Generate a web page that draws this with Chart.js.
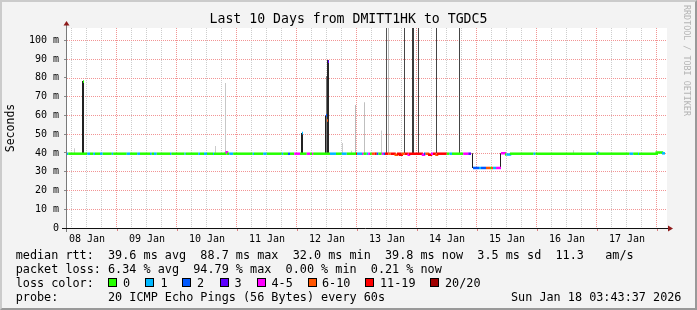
<!DOCTYPE html>
<html lang="en">
<head>
<meta charset="UTF-8" />
<title>Last 10 Days from DMITT1HK to TGDC5</title>
<script src="https://cdn.jsdelivr.net/npm/chart.js"></script>
<style>
  body { margin: 0; background: #f3f3f3; }
  #wrap { position: relative; width: 697px; height: 310px; background: #f3f3f3; overflow: hidden;
          font-family: 'DejaVu Sans Mono', monospace; color: #000; }
  #wrap canvas { position: absolute; left: 0; top: 0; }
  .frame { position: absolute; left: 0; top: 0; width: 697px; height: 310px; box-sizing: border-box;
           border: 2px solid; border-color: #cbcbcb #999 #999 #cbcbcb; pointer-events: none; }
  .title { position: absolute; left: 0; top: 11px; width: 697px; text-align: center;
           font-size: 13.2px; line-height: 16px; white-space: pre; }
  .credit { position: absolute; left: 682px; top: 5px; writing-mode: vertical-rl;
            font-size: 8.4px; line-height: 10px; color: #b4b4b4; white-space: pre; }
  .txt { position: absolute; white-space: pre; font-size: 11.8px; line-height: 14px; }
  .box { position: absolute; width: 7px; height: 7px; border: 1px solid #000; }
</style>
</head>
<body>
<div id="wrap">
  <canvas id="chart" width="697" height="310"></canvas>
  <div class="title">Last 10 Days from DMITT1HK to TGDC5</div>
  <div class="credit">RRDTOOL / TOBI OETIKER</div>
  <div id="legend"></div>
  <div class="frame"></div>
</div>

<script>
  // loss buckets (pings lost out of 20)
  const lossColors = ['#26ff00', '#00b8ff', '#0059ff', '#5e00ff', '#ff00ff', '#ff5500', '#ff0000', '#a00000'];
  const lossLabels = ['0', '1', '2', '3', '4-5', '6-10', '11-19', '20/20'];

  // x axis in hours from the left edge of the graph (08 Jan ~04:00)
  const dayLabelHours = [8, 32, 56, 80, 104, 128, 152, 176, 200, 224];
  const dayLabels = ['08 Jan', '09 Jan', '10 Jan', '11 Jan', '12 Jan', '13 Jan', '14 Jan', '15 Jan', '16 Jan', '17 Jan'];

  // median rtt, one entry per run: start hour, ms (null = break), loss bucket
  const medHour = [0.0, 0.5, 8.1, 9.2, 10.5, 11.2, 13.2, 14.3, 17.9, 18.5,
    23.9, 25.2, 28.1, 29.2, 33.2, 33.9, 34.8, 35.9, 41.2, 41.8,
    47.0, 47.5, 52.5, 53.2, 54.8, 56.0, 58.4, 58.8, 63.4, 64.0,
    64.9, 66.5, 74.3, 74.8, 78.5, 79.9, 85.9, 86.5, 88.4, 89.2,
    90.9, 93.2, 95.9, 97.2, 98.0, 98.5, 105.2, 107.6, 109.9, 111.9,
    115.6, 116.0, 118.0, 118.6, 119.9, 120.5, 121.2, 121.9, 123.0, 123.9,
    124.6, 125.9, 126.6, 127.2, 128.5, 129.5, 131.0, 132.0, 133.2, 133.9,
    135.0, 136.2, 136.8, 141.9, 142.8, 143.4, 144.4, 145.6, 146.4, 147.3,
    148.0, 151.9, 153.0, 154.0, 158.5, 160.5, 161.6, 161.6, 162.4, 164.8,
    165.6, 167.6, 169.2, 169.6, 170.4, 171.6, 173.6, 173.6, 173.6, 175.2,
    175.8, 177.2, 186.6, 187.4, 211.8, 212.4, 225.0, 226.5, 228.4, 228.8,
    235.9, 238.0, 239.2];
  const medMs = [39.6, 39.6, 39.6, 39.6, 39.6, 39.6, 39.6, 39.6, 39.6, 39.6,
    39.6, 39.6, 39.6, 39.6, 39.6, 39.6, 39.6, 39.6, 39.6, 39.6,
    39.6, 39.6, 39.6, 39.6, 39.6, 39.6, 39.6, 39.6, 40.4, 39.6,
    39.6, 39.6, 39.6, 39.6, 39.6, 39.6, 39.6, 39.6, 39.6, 39.6,
    39.6, 39.6, 39.6, 39.6, 39.6, 39.6, 39.6, 39.6, 39.6, 39.6,
    39.6, 39.6, 39.6, 39.6, 39.6, 39.6, 39.6, 39.6, 39.6, 39.6,
    39.6, 39.6, 39.6, 39.6, 39.6, 39.6, 39.0, 39.6, 39.0, 39.6,
    39.6, 39.0, 39.6, 39.0, 39.6, 39.6, 39.0, 39.6, 39.6, 39.0,
    39.6, 39.6, 39.6, 39.6, 39.6, 39.6, 39.6, null, 32.0, 32.0,
    32.0, 32.0, 32.0, 32.0, 32.0, 32.0, 32.0, null, 39.8, 39.2,
    39.2, 39.6, 39.6, 39.6, 40.0, 39.6, 39.6, 39.6, 39.6, 39.6,
    40.3, 39.8, 39.8];
  const medLoss = [1, 0, 1, 0, 1, 0, 1, 0, 1, 0,
    1, 0, 1, 0, 1, 0, 1, 0, 1, 0,
    1, 0, 1, 0, 1, 0, 1, 0, 4, 0,
    1, 0, 1, 0, 1, 0, 1, 0, 2, 0,
    4, 0, 4, 0, 4, 0, 1, 0, 1, 0,
    6, 1, 4, 0, 1, 4, 0, 5, 6, 2,
    0, 4, 2, 6, 5, 6, 5, 6, 6, 5,
    6, 4, 6, 4, 2, 5, 6, 4, 6, 5,
    6, 0, 1, 0, 4, 3, 3, 3, 2, 1,
    2, 5, 0, 5, 1, 4, 4, 4, 4, 0,
    1, 0, 1, 0, 1, 0, 1, 0, 1, 0,
    0, 1, 1];

  // smoke (spread of the 20 pings): hour, low ms, high ms, rrd steps wide, ping density
  const smokeHour  = [3.0, 6.4, 59.4, 63.4, 94.0, 103.4, 103.8, 104.4, 110.2, 113.8, 115.4, 119.0,
    125.8, 127.8, 128.6, 135.0, 138.4, 140.6, 147.8, 157.0, 162.2, 173.4, 202.6];
  const smokeLow   = [40, 40, 40, 40, 40, 40, 40, 40, 40, 40, 40, 40,
    40, 40, 40, 40, 40, 40, 40, 40, 32.0, 32.0, 40];
  const smokeHigh  = [42.5, 78.3, 43.7, 77.3, 50.7, 60.0, 81.0, 89.5, 45.3, 41.2, 65.5, 67.0,
    52.0, 150, 150, 150, 150, 150, 150, 150, 39.8, 39.8, 41.5];
  const smokeSteps = [1, 2, 1, 1, 2, 1, 1, 2, 1, 1, 1, 1,
    1, 1, 1, 1, 2, 1, 1, 1, 1, 1, 1];
  const smokeDensity = [0.2, 0.87, 0.2, 0.22, 0.87, 0.87, 0.55, 0.85, 0.2, 0.2, 0.27, 0.25,
    0.2, 0.67, 0.27, 0.73, 0.77, 0.73, 0.73, 0.73, 0.87, 0.87, 0.2];

  // median marks on top of the spikes
  const markHour = [6.6, 94.2, 103.8, 104.2, 104.6];
  const markMs   = [78.0, 50.6, 60.0, 57.3, 88.7];
  const markLoss = [0, 1, 2, 5, 3];

  const FONT = "'DejaVu Sans Mono', monospace";
  const MAJOR = '#f29494';
  const MINOR = '#cdcdcd';
  const isMajorX = v => (v - 20) % 24 === 0;
  const isMajorY = v => v % 10 === 0;
  const gray = d => { const c = Math.round(255 * (1 - d)); return `rgb(${c},${c},${c})`; };

  function smokeSet(steps) {
    const idx = smokeHour.map((h, i) => i).filter(i => smokeSteps[i] === steps);
    return {
      type: 'bar', order: 3, grouped: false, barThickness: steps, inflateAmount: 0,
      borderWidth: 0,
      data: idx.map(i => ({ x: smokeHour[i], y: [smokeLow[i], smokeHigh[i]] })),
      backgroundColor: idx.map(i => gray(smokeDensity[i]))
    };
  }

  const medianLine = {
    type: 'line', order: 2,
    data: medHour.map((h, i) => ({ x: h, y: medMs[i] })),
    stepped: true, spanGaps: false, borderWidth: 2.5, pointRadius: 0, tension: 0,
    borderColor: lossColors[0],
    segment: { borderColor: c => lossColors[medLoss[c.p0DataIndex]] }
  };

  const marks = {
    type: 'bar', order: 1, grouped: false, barThickness: 1, inflateAmount: 0, borderWidth: 0,
    data: markHour.map((h, i) => ({ x: h, y: [markMs[i] - 0.7, markMs[i] + 0.7] })),
    backgroundColor: markLoss.map(l => lossColors[l])
  };

  // white canvas, rrdtool style dotted grid, axes with arrows
  const framePlugin = {
    id: 'framePlugin',
    beforeDraw(chart) {
      const { ctx, chartArea: a } = chart;
      ctx.save();
      ctx.fillStyle = '#fff';
      ctx.fillRect(a.left, a.top, a.right - a.left, a.bottom - a.top);
      ctx.restore();
    },
    beforeDatasetsDraw(chart) {
      const { ctx, chartArea: a, scales } = chart;
      ctx.save();
      [false, true].forEach(major => {
        ctx.fillStyle = major ? MAJOR : MINOR;
        scales.x.ticks.forEach(t => {
          if (isMajorX(t.value) !== major) return;
          const col = Math.floor(scales.x.getPixelForValue(t.value) - 0.5);
          for (let y = a.top; y < a.bottom; y += 2) ctx.fillRect(col, y, 1, 1);
        });
        scales.y.ticks.forEach(t => {
          if (t.value === 0 || isMajorY(t.value) !== major) return;
          const row = Math.floor(scales.y.getPixelForValue(t.value) + 0.2);
          for (let x = a.left; x < a.right; x += 2) ctx.fillRect(x, row, 1, 1);
        });
      });
      ctx.restore();
    },
    afterDraw(chart) {
      const { ctx, chartArea: a } = chart;
      ctx.save();
      ctx.lineWidth = 1;
      ctx.strokeStyle = '#7a7a7a';
      ctx.beginPath(); ctx.moveTo(a.left - 0.5, a.bottom + 4); ctx.lineTo(a.left - 0.5, a.top - 3); ctx.stroke();
      ctx.strokeStyle = '#111';
      ctx.beginPath(); ctx.moveTo(a.left - 5, a.bottom + 0.5); ctx.lineTo(a.right + 2, a.bottom + 0.5); ctx.stroke();
      ctx.fillStyle = '#8e1b1b';
      ctx.beginPath();
      ctx.moveTo(a.left - 3.5, a.top - 2.5); ctx.lineTo(a.left + 2.5, a.top - 2.5); ctx.lineTo(a.left - 0.5, a.top - 7);
      ctx.closePath(); ctx.fill();
      ctx.beginPath();
      ctx.moveTo(a.right + 1, a.bottom - 2.5); ctx.lineTo(a.right + 1, a.bottom + 3.5); ctx.lineTo(a.right + 6, a.bottom + 0.5);
      ctx.closePath(); ctx.fill();
      ctx.restore();
    }
  };

  new Chart(document.getElementById('chart'), {
    type: 'line',
    data: { datasets: [smokeSet(1), smokeSet(2), medianLine, marks] },
    options: {
      responsive: false,
      animation: false,
      events: [],
      layout: { padding: { top: 28, right: 30, bottom: 0, left: 0 } },
      plugins: { legend: { display: false }, tooltip: { enabled: false } },
      scales: {
        x: {
          type: 'linear', min: 0, max: 240, offset: false,
          afterFit: s => { s.height = 82; },
          afterBuildTicks: s => {
            const t = [];
            for (let h = 2; h <= 236; h += 6) t.push({ value: h });
            s.ticks = t;
          },
          border: { display: false },
          grid: {
            offset: false, drawOnChartArea: false, tickLength: 3, lineWidth: 1,
            tickColor: c => isMajorX(c.tick.value) ? '#d88080' : 'rgba(0,0,0,0)'
          },
          ticks: {
            autoSkip: false, maxRotation: 0, padding: 2, color: '#000',
            font: { family: FONT, size: 10 },
            callback: v => { const i = dayLabelHours.indexOf(v); return i >= 0 ? dayLabels[i] : ''; }
          }
        },
        y: {
          min: 0, max: 106.6,
          afterFit: s => { s.width = 67; },
          afterBuildTicks: s => {
            const t = [];
            for (let v = 0; v <= 105; v += 5) t.push({ value: v });
            s.ticks = t;
          },
          border: { display: false },
          grid: {
            drawOnChartArea: false, tickLength: 3, lineWidth: 1,
            tickColor: c => isMajorY(c.tick.value) ? '#888' : '#ccc'
          },
          ticks: {
            padding: 5, color: '#000',
            font: { family: FONT, size: 10 },
            callback: v => v === 0 ? '0' : (isMajorY(v) ? v + ' m' : '')
          },
          title: {
            display: true, text: 'Seconds', color: '#000',
            font: { family: FONT, size: 11.5 }, padding: { top: 4, bottom: 0 }
          }
        }
      }
    },
    plugins: [framePlugin]
  });

  // legend rows below the graph
  const legend = document.getElementById('legend');
  function put(x, top, text) {
    const s = document.createElement('span');
    s.className = 'txt';
    s.style.left = x + 'px';
    s.style.top = top + 'px';
    s.textContent = text;
    legend.appendChild(s);
  }
  const rowTop = [247.5, 261.5, 275.5, 290];
  put(15.7, rowTop[0], 'median rtt:  39.6 ms avg  88.7 ms max  32.0 ms min  39.8 ms now  3.5 ms sd  11.3   am/s');
  put(15.7, rowTop[1], 'packet loss: 6.34 % avg  94.79 % max  0.00 % min  0.21 % now');
  put(15.7, rowTop[2], 'loss color:');
  const boxX = [108, 145, 182, 219.5, 257, 307.5, 365, 430];
  const boxLabelX = [123, 160.5, 197, 234.5, 271.5, 322, 380, 445];
  lossLabels.forEach((lab, i) => {
    const b = document.createElement('div');
    b.className = 'box';
    b.style.left = boxX[i] + 'px';
    b.style.top = '278px';
    b.style.background = lossColors[i];
    legend.appendChild(b);
    put(boxLabelX[i], rowTop[2], lab);
  });
  put(15.7, rowTop[3], 'probe:       20 ICMP Echo Pings (56 Bytes) every 60s');
  put(511, rowTop[3], 'Sun Jan 18 03:43:37 2026');
</script>
</body>
</html>
